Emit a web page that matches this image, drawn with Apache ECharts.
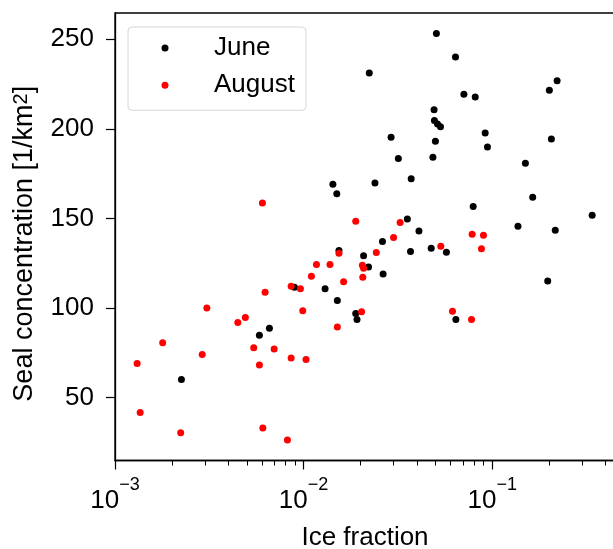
<!DOCTYPE html>
<html lang="en">
<head>
    <meta charset="UTF-8">
    <title>Seal concentration vs ice fraction</title>
    <script src="https://cdn.jsdelivr.net/npm/echarts@6.0.0/dist/echarts.min.js"></script>
    <style>
        html, body { margin: 0; padding: 0; background: #fff; }
        #main { width: 613px; height: 549px; }
    </style>
</head>
<body>
    <div id="main"></div>
</body>
</html>

<script>
// June
var juneX = [0.0506, 0.0639, 0.0223, 0.221, 0.201, 0.0708, 0.0813, 0.0492, 0.0494, 0.0513,
    0.0532, 0.0918, 0.0944, 0.0291, 0.206, 0.0500, 0.0318, 0.0485, 0.150, 0.0372,
    0.0239, 0.0143, 0.0150, 0.164, 0.0793, 0.339, 0.0355, 0.0409, 0.137, 0.216,
    0.0262, 0.0369, 0.0475, 0.0572, 0.0208, 0.0221, 0.0264, 0.197, 0.0189, 0.0192,
    0.0642, 0.0154, 0.00894, 0.0130, 0.0151, 0.00659, 0.00583, 0.00225];
var juneY = [253.3, 240.1, 231.2, 226.9, 221.5, 219.3, 217.8, 210.7, 204.6, 202.7,
    201.2, 197.7, 189.9, 195.3, 194.4, 193.1, 183.4, 184.2, 180.8, 172.2,
    169.8, 169.1, 163.8, 161.8, 156.6, 151.8, 149.6, 142.9, 145.6, 143.4,
    137.1, 131.5, 133.3, 131.1, 129.1, 122.9, 119.0, 115.0, 96.9, 93.5,
    93.5, 132.1, 111.6, 110.7, 104.2, 88.7, 84.8, 60.0];

// August
var augX = [0.00605, 0.0189, 0.0325, 0.0300, 0.0783, 0.0899, 0.0243, 0.0534, 0.0877, 0.0205,
    0.0208, 0.0206, 0.0163, 0.0151, 0.0203, 0.0616, 0.0777, 0.0154, 0.0117, 0.0138,
    0.0110, 0.00859, 0.00962, 0.00625, 0.00307, 0.00990, 0.00491, 0.00448, 0.00179, 0.00544,
    0.00698, 0.00290, 0.00131, 0.00583, 0.00859, 0.0103, 0.00136, 0.00223, 0.00608, 0.00821];
var augY = [158.6, 148.4, 147.7, 139.3, 141.2, 140.6, 130.9, 134.4, 133.0, 123.9,
    122.2, 117.1, 114.6, 89.3, 97.8, 98.2, 93.5, 130.6, 124.3, 124.3,
    117.7, 112.1, 110.7, 108.8, 99.9, 98.4, 94.6, 91.9, 80.5, 77.7,
    77.0, 74.0, 69.0, 68.1, 72.0, 71.2, 41.6, 30.3, 32.9, 26.2];

// ticks
var xMajor = [0.001, 0.01, 0.1];
var xMinor = [0.002, 0.003, 0.004, 0.005, 0.006, 0.007, 0.008, 0.009,
    0.02, 0.03, 0.04, 0.05, 0.06, 0.07, 0.08, 0.09, 0.2, 0.3, 0.4];
var yTicks = [50, 100, 150, 200, 250];

var FONT = 'Liberation Sans, Arial, sans-serif';
var FS = 26;

function pairs(xs, ys) {
    var out = [];
    for (var i = 0; i < xs.length; i++) out.push([xs[i], ys[i]]);
    return out;
}

var chart = echarts.init(document.getElementById('main'));

var xBase = {
    type: 'log',
    logBase: 10,
    min: 0.001,
    max: 0.448,
    position: 'bottom',
    splitLine: { show: false }
};

var option = {
    animation: false,
    backgroundColor: '#fff',
    textStyle: { fontFamily: FONT, color: '#000' },
    grid: {
        left: 115, top: 13, right: -2, bottom: 88.5,
        outerBoundsMode: 'none',
        show: true, borderColor: '#000', borderWidth: 1.3
    },
    legend: {
        orient: 'vertical',
        left: 128, top: 27,
        padding: [8, 11, 12, 33.5],
        itemGap: 11.3,
        itemWidth: 20, itemHeight: 7,
        icon: 'circle',
        borderColor: '#d6d6d6', borderWidth: 1, borderRadius: 4,
        backgroundColor: '#fff',
        formatter: '{t|{name}}',
        textStyle: {
            fontFamily: FONT, fontSize: FS, color: '#000', lineHeight: FS,
            rich: { t: { fontFamily: FONT, fontSize: FS, lineHeight: FS, padding: [0, 0, 0, 34] } }
        },
        data: ['June', 'August']
    },
    xAxis: [
        Object.assign({}, xBase, {
            name: 'Ice fraction',
            nameLocation: 'middle',
            nameGap: 64,
            nameTextStyle: { fontFamily: FONT, fontSize: FS, color: '#000' },
            axisLine: { show: true, lineStyle: { color: '#000', width: 1.3 } },
            axisTick: { show: true, length: 9, customValues: xMajor, lineStyle: { color: '#000', width: 1.2 } },
            axisLabel: {
                customValues: xMajor,
                margin: 16,
                color: '#000',
                formatter: function (v) {
                    var e = Math.round(Math.log(v) / Math.LN10);
                    return '{b|10}{s|' + (e < 0 ? '\u2212' + (-e) : e) + '}';
                },
                rich: {
                    b: { fontFamily: FONT, fontSize: FS, lineHeight: 48, color: '#000' },
                    s: { fontFamily: FONT, fontSize: 18, lineHeight: 18, verticalAlign: 'top', color: '#000' }
                }
            }
        }),
        Object.assign({}, xBase, {
            axisLine: { show: false },
            axisLabel: { show: false },
            axisTick: { show: true, length: 5, customValues: xMinor, lineStyle: { color: '#000', width: 1 } }
        })
    ],
    yAxis: {
        type: 'value',
        min: 14.8,
        max: 264.7,
        name: 'Seal concentration [1/km{s|2}]',
        nameLocation: 'middle',
        nameRotate: 90,
        nameGap: 77,
        nameTextStyle: {
            fontFamily: FONT, fontSize: 27, color: '#000',
            padding: [0, 14, 0, 0],
            rich: { s: { fontFamily: FONT, fontSize: 20, verticalAlign: 'top', lineHeight: 20 } }
        },
        splitLine: { show: false },
        axisLine: { show: true, lineStyle: { color: '#000', width: 1.3 } },
        axisTick: { show: true, length: 9, customValues: yTicks, lineStyle: { color: '#000', width: 1.2 } },
        axisLabel: { customValues: yTicks, margin: 21, fontFamily: FONT, fontSize: FS, color: '#000' }
    },
    series: [
        {
            name: 'June',
            type: 'scatter',
            xAxisIndex: 0,
            symbolSize: 7,
            itemStyle: { color: '#000000', opacity: 1 },
            data: pairs(juneX, juneY)
        },
        {
            name: 'August',
            type: 'scatter',
            xAxisIndex: 0,
            symbolSize: 7,
            itemStyle: { color: '#ff0000', opacity: 1 },
            data: pairs(augX, augY)
        }
    ]
};

chart.setOption(option);
</script>
